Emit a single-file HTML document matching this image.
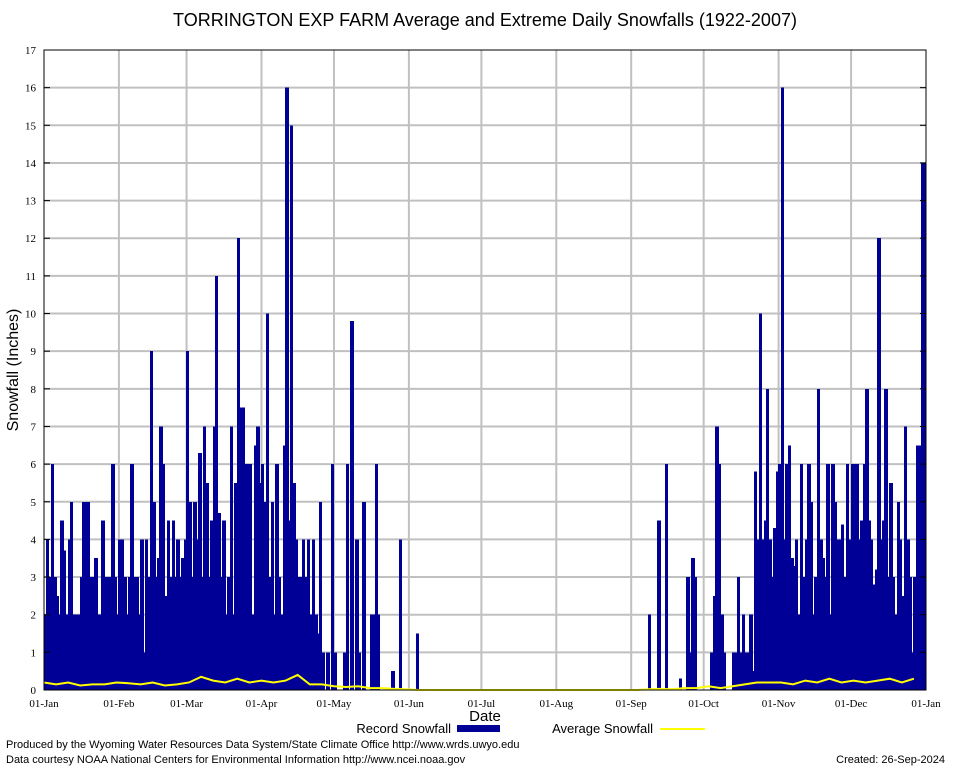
<!DOCTYPE html>
<html><head><meta charset="utf-8"><style>
body{margin:0;background:#fff;}
svg{display:block;font-family:"Liberation Sans",sans-serif;}
</style></head><body>
<svg id="chart" width="954" height="768">
<text x="485" y="26" text-anchor="middle" font-size="18">TORRINGTON EXP FARM Average and Extreme Daily Snowfalls (1922-2007)</text>
<g id="grid"></g>
<g id="bars" shape-rendering="crispEdges"></g>
<polyline id="avg" fill="none" stroke="#ffff00" stroke-width="2"/>
<rect x="44" y="50" width="882" height="640" fill="none" stroke="#000"/>
<g id="ticks" font-family="Liberation Serif, serif" font-size="11"></g>
<text transform="translate(18,370) rotate(-90)" text-anchor="middle" font-size="16">Snowfall (Inches)</text>
<text x="485" y="721" text-anchor="middle" font-size="15">Date</text>
<g>
<text x="451" y="733" text-anchor="end" font-size="13">Record Snowfall</text>
<rect x="457" y="725" width="43" height="7" fill="#000096"/>
<text x="653" y="733" text-anchor="end" font-size="13">Average Snowfall</text>
<line x1="660" y1="729" x2="705" y2="729" stroke="#ffff00" stroke-width="2"/>
</g>
<text x="6" y="748" font-size="11">Produced by the Wyoming Water Resources Data System/State Climate Office http://www.wrds.uwyo.edu</text>
<text x="6" y="763" font-size="11">Data courtesy NOAA National Centers for Environmental Information http://www.ncei.noaa.gov</text>
<text x="945" y="763" text-anchor="end" font-size="11">Created:  26-Sep-2024</text>
</svg>
<script>
const monthLabels=["01-Jan","01-Feb","01-Mar","01-Apr","01-May","01-Jun","01-Jul","01-Aug","01-Sep","01-Oct","01-Nov","01-Dec","01-Jan"];
const monthStarts=[0,31,59,90,120,151,181,212,243,273,304,334,365];
const yTicks=[0,1,2,3,4,5,6,7,8,9,10,11,12,13,14,15,16,17];
const jan=[2,4,3,6,3,2.5,2,4.5,3.7,2,4,5,2,2,2,3,5,5,5,3,3,3.5,2,2,4.5,3,3,3,6,3,2];
const feb=[4,4,3,2,3,6,3,3,2,4,1,4,3,9,5,3,3.5,7,6,2.5,4.5,3,4.5,3,4,3,3.5,4];
const mar=[9,5,3,5,4,6.3,3,7,5.5,3,4.5,7,11,4.7,3,4.5,2,3,7,2,5.5,12,7.5,7.5,6,6,6,2,6.5,7,5.5];
const apr=[6,5,10,3,5,2,6,3,2,6.5,16,4.5,15,5.5,4,3,3,4,3,4,2,4,2,1.5,5,1,0,1,0,6];
const may=[1,0,0,0,1,6,0,9.8,0,4,1,0,5,0,0,2,2,6,2,0,0,0,0,0,0.5,0,0,4,0,0,0];
const jun=[0,0,0,1.5,0,0,0,0,0,0,0,0,0,0,0,0,0,0,0,0,0,0,0,0,0,0,0,0,0,0];
const jul=[0,0,0,0,0,0,0,0,0,0,0,0,0,0,0,0,0,0,0,0,0,0,0,0,0,0,0,0,0,0,0];
const aug=[0,0,0,0,0,0,0,0,0,0,0,0,0,0,0,0,0,0,0,0,0,0,0,0,0,0,0,0,0,0,0];
const sep=[0,0,0,0,0,0,0,2,0,0,0,4.5,0,0,6,0,0,0,0,0,0.3,0,0,3,1,3.5,3,0,0,0];
const oct=[0,0,0,1,2.5,7,6,2,1,0,0,0,1,1,3,1,2,1,1,2,0.5,5.8,4,10,4,4.5,8,4,3,4.3,5.8];
const nov=[6,16,4,6,6.5,3.5,3.3,4,2,6,3,4,6,5,2,3,8,4,3.5,3,6,2,6,5,4,4,4.4,3,6,4];
const dec=[6,6,6,4,4.5,6,8,4.5,4,2.8,3.2,12,4,4.5,8,3,5.5,3,2,5,4,2.5,7,4,3,1,3,6.5,6.5,14,14];
const record=[].concat(jan,feb,mar,apr,may,jun,jul,aug,sep,oct,nov,dec);
const avgStep=5;
const average=[.2,.15,.2,.12,.15,.15,.2,.18,.15,.2,.12,.15,.2,.35,.25,.2,.3,.2,.25,.2,.25,.4,.15,.15,.1,.08,.1,.05,.05,.03,.02,0,0,0,0,0,0,0,0,0,0,0,0,0,0,0,0,0,0,0,.02,.03,.02,.05,.05,.1,.05,.1,.15,.2,.2,.2,.15,.25,.2,.3,.2,.25,.2,.25,.3,.2,.3];
const NS="http://www.w3.org/2000/svg";
const X0=44,X1=926,Y0=690,Y1=50,YMAX=17,DAYS=365;
const xs=d=>X0+d*(X1-X0)/DAYS;
const ys=v=>Y0-v*(Y0-Y1)/YMAX;
function mk(tag,attrs,parent){const e=document.createElementNS(NS,tag);for(const k in attrs)e.setAttribute(k,attrs[k]);parent.appendChild(e);return e;}
const grid=document.getElementById('grid'),ticks=document.getElementById('ticks'),bars=document.getElementById('bars');
yTicks.forEach(t=>{
  if(t>0&&t<YMAX){const l=mk('line',{x1:X0,x2:X1,y1:ys(t),y2:ys(t),stroke:'#c0c0c0','stroke-width':2},grid);
  
  }
  const a=mk('line',{x1:X0,x2:X0+6,y1:ys(t),y2:ys(t),stroke:'#000'},ticks);
  
  
  const b=mk('line',{x1:X1-6,x2:X1,y1:ys(t),y2:ys(t),stroke:'#000'},ticks);
  
  
  const tx=mk('text',{x:36,y:ys(t)+4,'text-anchor':'end'},ticks);tx.textContent=t;
  
  
});
monthStarts.forEach((d,i)=>{
  if(i>0&&i<monthStarts.length-1){const l=mk('line',{x1:xs(d),x2:xs(d),y1:Y1,y2:Y0,stroke:'#c0c0c0','stroke-width':2},grid);
  
  }
  const tx=mk('text',{x:xs(d),y:707,'text-anchor':'middle'},ticks);tx.textContent=monthLabels[i];
  
  
});
const w=(X1-X0)/DAYS;
record.forEach((v,d)=>{
  if(v<=0)return;
  const x0=Math.floor(xs(d)), x1=Math.ceil(xs(d+1));
  const r=mk('rect',{x:x0,y:ys(v),width:x1-x0,height:Y0-ys(v),fill:'#000096'},bars);
  
  
});
document.getElementById('avg').setAttribute('points',average.map((v,i)=>xs(Math.min(i*avgStep,DAYS))+','+ys(v)).join(' '));
</script>
</body></html>
